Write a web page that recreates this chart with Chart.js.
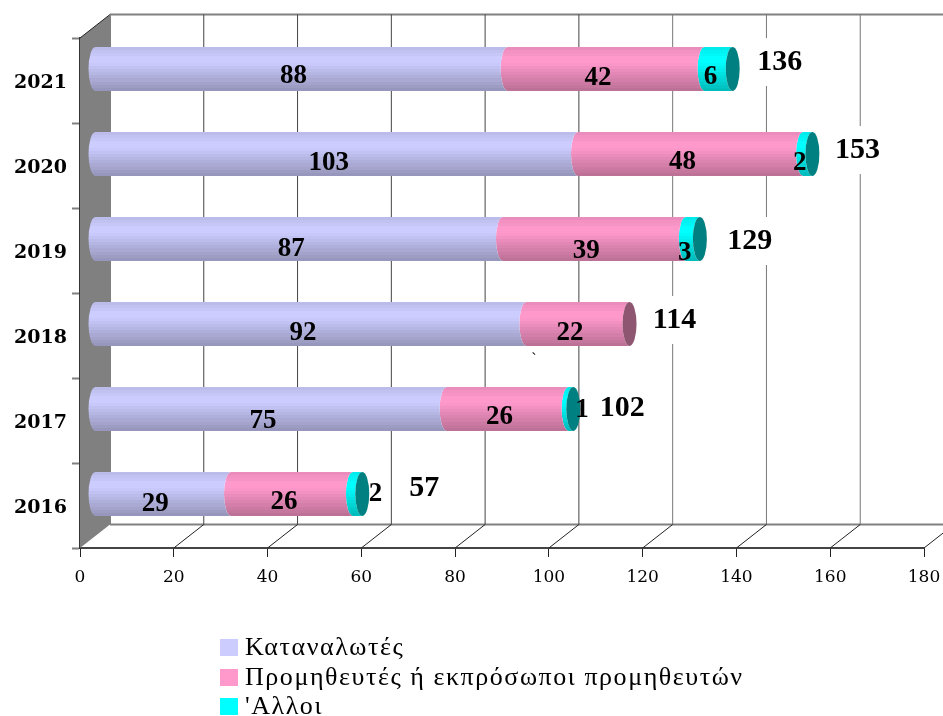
<!DOCTYPE html>
<html lang="el">
<head>
<meta charset="utf-8">
<title>Καταγγελίες ανά έτος</title>
<script src="https://cdn.jsdelivr.net/npm/chart.js@4/dist/chart.umd.js"></script>
<style>
  html, body { margin: 0; padding: 0; background: #fff; }
  canvas { display: block; }
</style>
</head>
<body>
<canvas id="chart" width="943" height="716"></canvas>
<script>
// Values per year, top row of the chart first
const years = ['2021', '2020', '2019', '2018', '2017', '2016'];
const consumers = [88, 103, 87, 92, 75, 29];
const suppliers = [42, 48, 39, 22, 26, 26];
const others = [6, 2, 3, 0, 1, 2];
const totals = [136, 153, 129, 114, 102, 57];
const xTicks = [0, 20, 40, 60, 80, 100, 120, 140, 160, 180];
const seriesNames = ['Καταναλωτές', 'Προμηθευτές ή εκπρόσωποι προμηθευτών', "'Αλλοι"];
const seriesColors = ['#ccccff', '#ff99cc', '#00ffff'];

// Hand placement of the labels around each bar
const valueDrop = [[7, 9, 8], [9, 8, 9], [10, 12, 14], [9, 9, 0], [12, 8, 1], [10, 8, 0]];
const valueSlide = [[0, 0, 0], [0, 0, 0], [0, 0, 0], [0, 0, 0], [0, 0, 19], [0, 0, 26]];
const totalShift = [[47, -7], [45, -4], [50, 2], [45, -4], [49, -1], [62, -6]];

const SERIF = '"Liberation Serif", "DejaVu Serif", serif';
const TICK_SERIF = '"DejaVu Serif", "Liberation Serif", serif';
const DEPTH_X = 30, DEPTH_Y = 23.5;      // full depth of the box
const BAR_SHIFT_X = 15, BAR_SHIFT_Y = -11.5; // bars sit halfway into the box
const CAP_RX = 7;

// Shading across the cylinder, from its top edge to its bottom edge
const bands = [0.92, 0.95, 0.97, 1, 1, 0.98, 0.95, 0.92, 0.89, 0.86, 0.83, 0.8, 0.77, 0.74];

function shade(hex, f) {
  const n = parseInt(hex.slice(1), 16);
  const c = s => Math.round(((n >> s) & 255) * f);
  return `rgb(${c(16)},${c(8)},${c(0)})`;
}

function bandedFill(ctx, hex, top, bottom) {
  const g = ctx.createLinearGradient(0, top, 0, bottom);
  bands.forEach((f, i) => {
    g.addColorStop(i / bands.length, shade(hex, f));
    g.addColorStop((i + 1) / bands.length, shade(hex, f));
  });
  return g;
}

// Bars drawn as cylinder segments: both ends curve the same way, so they nest
Chart.BarElement.prototype.draw = function (ctx) {
  const { x, y, base, height } = this.getProps(['x', 'y', 'base', 'height']);
  if (x === base) return;
  const top = y - height / 2, bottom = y + height / 2;
  ctx.save();
  ctx.fillStyle = bandedFill(ctx, this.options.backgroundColor, top, bottom);
  ctx.beginPath();
  ctx.moveTo(base, top);
  ctx.ellipse(base, y, CAP_RX, height / 2, 0, -Math.PI / 2, -3 * Math.PI / 2, true);
  ctx.lineTo(x, bottom);
  ctx.ellipse(x, y, CAP_RX, height / 2, 0, Math.PI / 2, 3 * Math.PI / 2, false);
  ctx.closePath();
  ctx.fill();
  ctx.restore();
};

const box3d = {
  id: 'box3d',
  beforeDatasetsDraw(chart) {
    const { ctx, scales: { x, y } } = chart;
    const left = x.getPixelForValue(0), top = y.top, bottom = y.bottom;
    ctx.save();
    // side wall
    ctx.fillStyle = '#808080';
    ctx.beginPath();
    ctx.moveTo(left, top);
    ctx.lineTo(left + DEPTH_X, top - DEPTH_Y);
    ctx.lineTo(left + DEPTH_X, bottom - DEPTH_Y);
    ctx.lineTo(left, bottom);
    ctx.closePath();
    ctx.fill();
    ctx.strokeStyle = '#222';
    ctx.lineWidth = 1;
    ctx.beginPath();
    ctx.moveTo(left, top);
    ctx.lineTo(left + DEPTH_X, top - DEPTH_Y);
    ctx.stroke();
    // back wall edges
    ctx.strokeStyle = '#808080';
    ctx.lineWidth = 2;
    ctx.beginPath();
    ctx.moveTo(left + DEPTH_X, top - DEPTH_Y);
    ctx.lineTo(chart.width, top - DEPTH_Y);
    ctx.moveTo(left + DEPTH_X, bottom - DEPTH_Y);
    ctx.lineTo(chart.width, bottom - DEPTH_Y);
    ctx.moveTo(left + DEPTH_X, top - DEPTH_Y);
    ctx.lineTo(left + DEPTH_X, bottom - DEPTH_Y);
    ctx.stroke();
    // grid on the back wall and its run across the floor
    ctx.lineWidth = 1;
    xTicks.forEach(v => {
      if (v === 0) return;
      const px = x.getPixelForValue(v);
      ctx.strokeStyle = v <= 100 ? '#444' : '#777';
      ctx.beginPath();
      ctx.moveTo(px + DEPTH_X, top - DEPTH_Y);
      ctx.lineTo(px + DEPTH_X, bottom - DEPTH_Y);
      ctx.stroke();
      ctx.strokeStyle = '#222';
      ctx.beginPath();
      ctx.moveTo(px, bottom);
      ctx.lineTo(px + DEPTH_X, bottom - DEPTH_Y);
      ctx.stroke();
    });
    ctx.restore();
    // the bars themselves are pushed back into the box
    ctx.save();
    ctx.translate(BAR_SHIFT_X, BAR_SHIFT_Y);
  },
  afterDatasetsDraw(chart) {
    const { ctx } = chart;
    // closing ellipse on the last visible segment of each bar
    years.forEach((yr, i) => {
      for (let d = chart.data.datasets.length - 1; d >= 0; d--) {
        const el = chart.getDatasetMeta(d).data[i];
        const p = el.getProps(['x', 'y', 'base', 'height']);
        if (p.x === p.base) continue;
        ctx.fillStyle = shade(seriesColors[d], d === 1 ? 0.56 : 0.5);
        ctx.beginPath();
        ctx.ellipse(p.x, p.y, CAP_RX, p.height / 2, 0, 0, Math.PI * 2);
        ctx.fill();
        break;
      }
    });
    ctx.restore();
    drawLabels(chart);
    drawLegend(chart);
  }
};

function drawLabels(chart) {
  const { ctx } = chart;
  ctx.save();
  ctx.textAlign = 'center';
  ctx.textBaseline = 'middle';
  ctx.fillStyle = '#000';
  // figures inside the segments
  ctx.font = 'bold 27px ' + SERIF;
  chart.data.datasets.forEach((ds, d) => {
    chart.getDatasetMeta(d).data.forEach((el, i) => {
      if (!ds.data[i]) return;
      const p = el.getProps(['x', 'y', 'base']);
      const cx = (p.x + p.base) / 2 + BAR_SHIFT_X - 8 + valueSlide[i][d];
      ctx.fillText(String(ds.data[i]), cx, p.y + BAR_SHIFT_Y + valueDrop[i][d]);
    });
  });
  // totals, each on a white plate that interrupts the grid
  const x = chart.scales.x, y = chart.scales.y;
  ctx.font = 'bold 30px ' + SERIF;
  totals.forEach((t, i) => {
    const px = x.getPixelForValue(t) + BAR_SHIFT_X + totalShift[i][0];
    const py = y.getPixelForValue(i) + BAR_SHIFT_Y + totalShift[i][1];
    const w = ctx.measureText(String(t)).width + 6;
    ctx.fillStyle = '#fff';
    ctx.fillRect(px - w / 2, py - 24, w, 48);
    ctx.fillStyle = '#000';
    ctx.fillText(String(t), px, py);
  });
  // small stray mark under the 2018 bar
  ctx.font = '16px ' + SERIF;
  ctx.fillText('`', 534, 360);
  ctx.restore();
}

function drawLegend(chart) {
  const { ctx } = chart;
  const rows = [639, 669, 698];
  ctx.save();
  ctx.textAlign = 'left';
  ctx.textBaseline = 'middle';
  ctx.font = '26px ' + SERIF;
  ctx.letterSpacing = '1.55px';
  chart.data.datasets.forEach((ds, d) => {
    ctx.fillStyle = seriesColors[d];
    ctx.fillRect(220, rows[d], 18, 17);
    ctx.fillStyle = '#000';
    ctx.fillText(ds.label, 245, rows[d] + 9);
  });
  ctx.restore();
}

new Chart(document.getElementById('chart'), {
  type: 'bar',
  data: {
    labels: years,
    datasets: [consumers, suppliers, others].map((values, d) => ({
      label: seriesNames[d],
      data: values,
      backgroundColor: seriesColors[d],
      barThickness: 44,
      clip: false
    }))
  },
  options: {
    indexAxis: 'y',
    responsive: false,
    animation: false,
    layout: { padding: { left: 0, right: 19, top: 38, bottom: 0 } },
    plugins: {
      legend: { display: false },
      tooltip: { enabled: false }
    },
    scales: {
      x: {
        stacked: true,
        min: 0,
        max: 180,
        afterBuildTicks(s) { s.ticks = xTicks.map(value => ({ value })); },
        afterFit(s) {
          s.height = 168;
          s.paddingLeft = 0;
          s.paddingRight = 0;
        },
        grid: { drawOnChartArea: false, drawTicks: true, tickLength: 9, tickColor: '#222', tickWidth: 1 },
        border: { color: '#444', width: 2 },
        ticks: {
          color: '#000',
          padding: 10,
          maxRotation: 0,
          autoSkip: false,
          font: { family: TICK_SERIF, size: 17 }
        }
      },
      y: {
        stacked: true,
        afterFit(s) { s.width = 80; },
        grid: { drawOnChartArea: false, drawTicks: true, tickLength: 8, tickColor: '#808080', tickWidth: 2 },
        border: { color: '#333', width: 2 },
        ticks: {
          color: '#000',
          padding: 5,
          labelOffset: 3,
          font: { family: TICK_SERIF, size: 19, weight: 'bold' }
        }
      }
    }
  },
  plugins: [box3d]
});
</script>
</body>
</html>
